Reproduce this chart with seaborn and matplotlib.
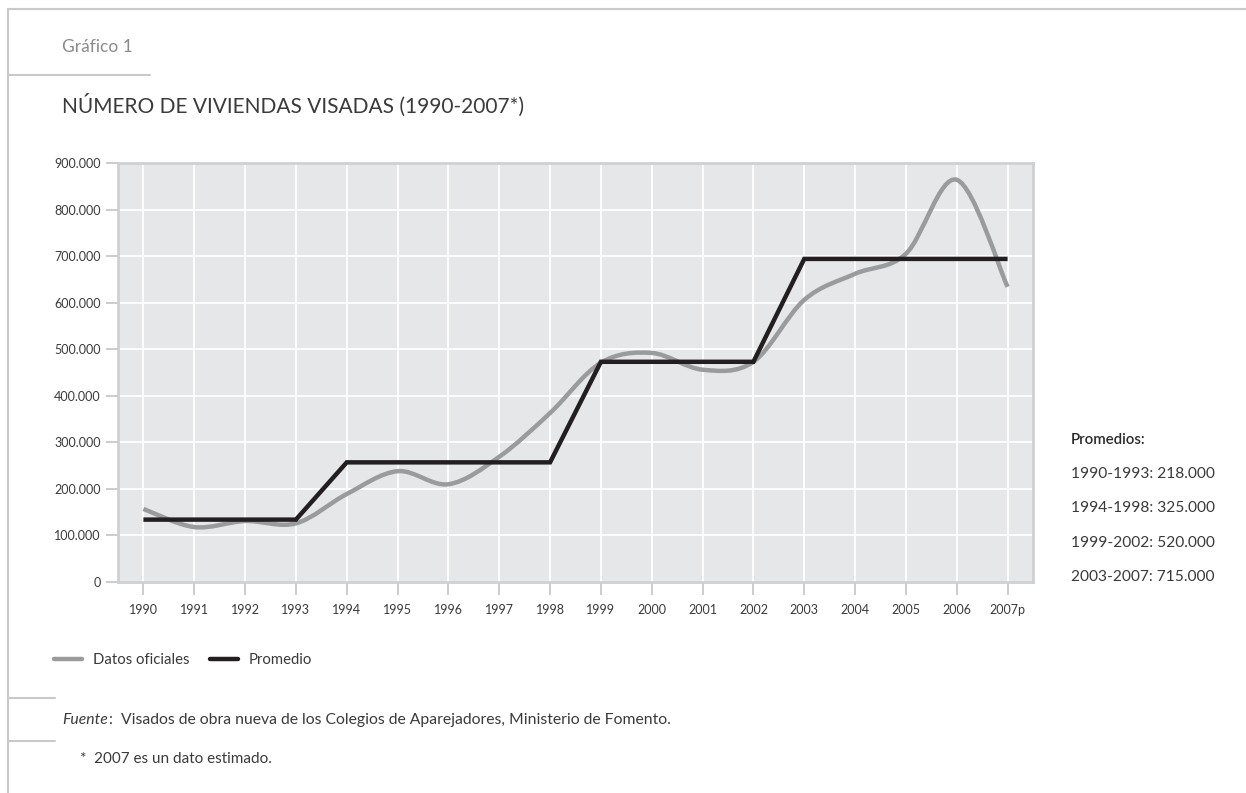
import pandas as pd
import matplotlib
matplotlib.use("Agg")
import matplotlib.pyplot as plt
import seaborn as sns
from matplotlib.path import Path
from matplotlib.patches import PathPatch
from matplotlib.lines import Line2D
from matplotlib.ticker import FuncFormatter


# Data
years = ['1990', '1991', '1992', '1993', '1994', '1995', '1996', '1997', '1998',
         '1999', '2000', '2001', '2002', '2003', '2004', '2005', '2006', '2007p']
datos_oficiales = [157000, 118000, 131000, 126000, 189000, 238000, 210000, 269000, 363000,
                   471000, 492000, 456000, 473000, 606000, 662000, 705000, 864000, 634000]
promedio = [134000, 134000, 134000, 134000,
            257000, 257000, 257000, 257000, 257000,
            473000, 473000, 473000, 473000,
            694000, 694000, 694000, 694000, 694000]
promedios_texto = ['1990-1993: 218.000', '1994-1998: 325.000',
                   '1999-2002: 520.000', '2003-2007: 715.000']

GRAY = '#9a9b9d'
BLACK = '#231f20'
FRAME = '#c9c9c9'
TEXT = '#3a3a3a'


def smooth_path(x, y):
    # cubic bezier through the points (same idea as a "smoothed line" in a spreadsheet)
    n = len(x)
    verts = [(x[0], y[0])]
    codes = [Path.MOVETO]
    for i in range(n - 1):
        x0, y0 = (x[i - 1], y[i - 1]) if i > 0 else (x[i], y[i])
        x3, y3 = (x[i + 2], y[i + 2]) if i + 2 < n else (x[i + 1], y[i + 1])
        c1 = (x[i] + (x[i + 1] - x0) / 6, y[i] + (y[i + 1] - y0) / 6)
        c2 = (x[i + 1] - (x3 - x[i]) / 6, y[i + 1] - (y3 - y[i]) / 6)
        verts += [c1, c2, (x[i + 1], y[i + 1])]
        codes += [Path.CURVE4] * 3
    return Path(verts, codes)


def main():
    sns.set_theme(style='darkgrid')
    plt.rcParams['font.family'] = ['Lato', 'DejaVu Sans']

    df = pd.DataFrame({'Year': years, 'Pos': range(len(years)),
                       'Datos': datos_oficiales, 'Promedio': promedio})

    fig = plt.figure(figsize=(12.46, 7.93), dpi=100)
    fig.patch.set_facecolor('white')
    ax = fig.add_axes([118 / 1246, 1 - 582 / 793, (1033 - 118) / 1246, (582 - 163) / 793])
    ax.set_facecolor('#e6e7e8')

    # smoothed official data
    patch = PathPatch(smooth_path(list(df['Pos']), list(df['Datos'])), facecolor='none',
                      edgecolor=GRAY, lw=3.2, capstyle='butt', zorder=3)
    ax.add_patch(patch)

    # average steps
    sns.lineplot(data=df, x='Pos', y='Promedio', ax=ax, color=BLACK, lw=3.2,
                 solid_capstyle='butt', solid_joinstyle='miter', zorder=4)

    ax.set_xlim(-0.5, len(years) - 0.5)
    ax.set_ylim(0, 900000)
    ax.set_xticks(range(len(years)))
    ax.set_xticklabels(years)
    ax.set_yticks(range(0, 900001, 100000))
    ax.yaxis.set_major_formatter(FuncFormatter(lambda v, p: f'{int(v):,}'.replace(',', '.')))
    ax.set_xlabel('')
    ax.set_ylabel('')

    ax.grid(True, color='white', lw=1.3)
    for s in ax.spines.values():
        s.set_visible(True)
        s.set_color('#cfd0d2')
        s.set_linewidth(2)
    ax.tick_params(axis='both', which='major', length=9, width=1.3, color='#c8c8c8',
                   labelsize=9, labelcolor=TEXT)
    ax.tick_params(axis='y', pad=3.5, left=True)
    ax.tick_params(axis='x', pad=7, bottom=True)

    # legend
    handles = [Line2D([], [], color=GRAY, lw=3.2), Line2D([], [], color=BLACK, lw=3.2)]
    fig.legend(handles, ['Datos oficiales', 'Promedio'], loc='center left',
               bbox_to_anchor=(54 / 1246, 1 - 660 / 793), ncol=2, frameon=False,
               fontsize=10.7, handlelength=1.9, handletextpad=0.7, columnspacing=1.4,
               borderaxespad=0, borderpad=0, labelcolor=TEXT)

    # titles
    fig.text(62 / 1246, 1 - 47 / 793, 'Gráfico 1', fontsize=12.5, color='#8a8a8a', va='center')
    fig.text(62 / 1246, 1 - 105 / 793, 'NÚMERO DE VIVIENDAS VISADAS (1990-2007*)',
             fontsize=15, color=TEXT, va='center', fontstretch='condensed')

    # averages note on the right
    fig.text(1071 / 1246, 1 - 440 / 793, 'Promedios:', fontsize=10.8, color='#2a2a2a',
             va='center', fontweight='semibold')
    for i, t in enumerate(promedios_texto):
        fig.text(1071 / 1246, 1 - (474 + i * 34.3) / 793, t, fontsize=11.2, color=TEXT,
                 va='center')

    # footer
    fuente = fig.text(62 / 1246, 1 - 720 / 793, 'Fuente', fontsize=11.3, color=TEXT,
                      va='center', style='italic')
    ax.annotate(':  Visados de obra nueva de los Colegios de Aparejadores, Ministerio de Fomento.',
                xy=(1, 0.5), xycoords=fuente, xytext=(1, 0), textcoords='offset points',
                fontsize=11.3, color=TEXT, va='center', ha='left', annotation_clip=False)
    fig.text(80 / 1246, 1 - 759 / 793, '*  2007 es un dato estimado.', fontsize=11,
             color=TEXT, va='center')

    # page frame lines
    def frame_line(x0, y0, x1, y1):
        fig.add_artist(Line2D([x0 / 1246, x1 / 1246], [1 - y0 / 793, 1 - y1 / 793],
                              transform=fig.transFigure, color=FRAME, lw=1.5))

    frame_line(8, 9, 1246, 9)
    frame_line(8, 9, 8, 793)
    frame_line(8, 75, 150, 75)
    frame_line(8, 698, 55, 698)
    frame_line(8, 741, 55, 741)

    plt.savefig('out.png', dpi=100, facecolor='white')


if __name__ == "__main__":
    main()
